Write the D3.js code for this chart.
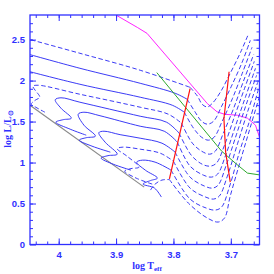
<!DOCTYPE html>
<html><head><meta charset="utf-8">
<script src="https://cdn.jsdelivr.net/npm/d3@7"></script>
<style>html,body{margin:0;padding:0;background:#fff;} svg{display:block;}</style>
</head><body>
<svg id="c" width="274" height="274"></svg>
<script>
// ---- axis ticks / labels ----
const xTicksMajor = [4.0, 3.9, 3.8, 3.7];
const xTickLabels = ["4", "3.9", "3.8", "3.7"];
const yTicksMajor = [0, 0.5, 1, 1.5, 2, 2.5];
const yTickLabels = ["0", "0.5", "1", "1.5", "2", "2.5"];

// ---- evolutionary tracks [log Teff, log L] ----
const track1 = [[4.060,2.520],[3.963,2.333],[3.858,2.126],[3.771,1.918],[3.758,1.809],[3.750,1.711],[3.741,1.678],[3.732,1.724],[3.718,1.861],[3.701,2.089],[3.683,2.345],[3.669,2.572]];
const track2 = [[4.060,2.336],[3.963,2.150],[3.858,1.967],[3.797,1.845],[3.776,1.772],[3.762,1.614],[3.751,1.504],[3.741,1.468],[3.730,1.504],[3.716,1.687],[3.699,1.931],[3.681,2.211],[3.666,2.491]];
const track3 = [[4.060,2.126],[3.963,1.955],[3.858,1.797],[3.802,1.699],[3.781,1.614],[3.765,1.419],[3.751,1.309],[3.739,1.273],[3.729,1.309],[3.715,1.504],[3.697,1.784],[3.680,2.089],[3.663,2.406]];
const track4 = [[4.024,1.614],[4.040,1.675],[4.048,1.711],[4.041,1.760],[4.033,1.797],[4.041,1.882],[4.045,1.931],[4.036,1.943],[3.963,1.833],[3.858,1.675],[3.809,1.590],[3.786,1.480],[3.767,1.236],[3.751,1.139],[3.737,1.102],[3.727,1.139],[3.713,1.358],[3.695,1.663],[3.678,1.992],[3.660,2.320]];
const track5 = [[3.952,1.334],[3.980,1.407],[4.005,1.492],[3.992,1.523],[3.978,1.541],[3.996,1.663],[4.006,1.766],[3.996,1.790],[3.963,1.736],[3.858,1.565],[3.812,1.492],[3.790,1.358],[3.769,1.090],[3.750,0.980],[3.736,0.956],[3.725,0.993],[3.711,1.212],[3.694,1.553],[3.676,1.906],[3.659,2.235]];
const track6 = [[3.910,1.127],[3.942,1.200],[3.964,1.273],[3.952,1.303],[3.936,1.322],[3.956,1.456],[3.966,1.590],[3.956,1.614],[3.928,1.571],[3.858,1.443],[3.816,1.382],[3.793,1.248],[3.771,0.956],[3.748,0.847],[3.734,0.822],[3.723,0.859],[3.709,1.090],[3.692,1.443],[3.674,1.809],[3.657,2.150]];
const track7 = [[3.874,0.907],[3.905,0.980],[3.926,1.054],[3.914,1.084],[3.898,1.102],[3.919,1.248],[3.930,1.364],[3.921,1.382],[3.893,1.340],[3.858,1.297],[3.820,1.236],[3.797,1.127],[3.771,0.822],[3.746,0.713],[3.732,0.688],[3.722,0.725],[3.708,0.968],[3.690,1.346],[3.673,1.711],[3.655,2.065]];
const track8 = [[3.837,0.737],[3.865,0.810],[3.885,0.895],[3.874,0.926],[3.860,0.944],[3.881,1.078],[3.898,1.169],[3.888,1.188],[3.858,1.163],[3.823,1.114],[3.800,1.017],[3.771,0.688],[3.744,0.579],[3.730,0.554],[3.720,0.591],[3.706,0.834],[3.688,1.236],[3.671,1.614],[3.653,1.980]];
const track9 = [[3.821,0.579],[3.833,0.688],[3.853,0.737],[3.840,0.780],[3.828,0.810],[3.849,0.907],[3.864,1.005],[3.854,1.029],[3.832,1.005],[3.804,0.907],[3.771,0.554],[3.743,0.445],[3.727,0.420],[3.716,0.457],[3.702,0.713],[3.685,1.127],[3.667,1.517],[3.652,1.894]];
const track10 = [[3.840,0.664],[3.832,0.737],[3.820,0.786],[3.807,0.792],[3.774,0.505],[3.741,0.323],[3.722,0.274],[3.711,0.323],[3.701,0.591],[3.683,1.029],[3.666,1.431],[3.650,1.809]];
const tracks = [track1, track2, track3, track4, track5, track6, track7, track8, track9, track10];
// index where each track switches to the dashed post-main-sequence style
const bendIndex = [3, 4, 4, 11, 11, 11, 11, 10, 9, 3];
const firstPartDashed = [true, false, false, true, false, false, false, true, false, true];

// ---- other curves ----
const zams = [[4.050,1.699],[3.851,0.700]];
const redLeft = [[3.771,1.902],[3.807,0.801]];
const redRight = [[3.703,2.107],[3.712,1.535],[3.709,1.127],[3.701,0.761]];
const greenLine = [[3.829,2.097],[3.716,1.139],[3.690,0.980],[3.671,0.871],[3.648,0.847]];
const magentaLine = [[3.899,2.795],[3.863,2.649],[3.846,2.576],[3.741,1.720],[3.724,1.619],[3.711,1.589],[3.688,1.577],[3.671,1.541],[3.657,1.456],[3.650,1.309],[3.645,1.151]];

const L = 30, R = 259.5, T = 15, B = 244.5;
const AX = "#3030ff", TR = "#3030f4";
const svg = d3.select("#c");
const x = d3.scaleLinear().domain([4.05, 3.65]).range([L, R]);
const y = d3.scaleLinear().domain([0, 2.8]).range([B, T]);

svg.append("defs").append("clipPath").attr("id","clip")
  .append("rect").attr("x",L).attr("y",T).attr("width",R-L).attr("height",B-T);
const plot = svg.append("g").attr("clip-path","url(#clip)");
const line = d3.line().x(d=>x(d[0])).y(d=>y(d[1])).curve(d3.curveCatmullRom.alpha(0.5));
const lin = d3.line().x(d=>x(d[0])).y(d=>y(d[1]));

plot.append("path").attr("d", lin(zams)).attr("fill","none").attr("stroke","#8a8a8a").attr("stroke-width",1.2);
plot.append("path").attr("d", lin(magentaLine)).attr("fill","none").attr("stroke","#ff22ff").attr("stroke-width",1);

tracks.forEach((t,i) => {
  const a = t.slice(0, bendIndex[i]+1), b = t.slice(bendIndex[i]);
  plot.append("path").attr("d", line(a)).attr("fill","none").attr("stroke",TR).attr("stroke-width",0.95)
    .attr("stroke-dasharray", firstPartDashed[i] ? "4.5,2.5" : null);
  plot.append("path").attr("d", line(b)).attr("fill","none").attr("stroke",TR).attr("stroke-width",0.95)
    .attr("stroke-dasharray","4.5,2.5");
});

plot.append("path").attr("d", lin(greenLine)).attr("fill","none").attr("stroke","#2ea82e").attr("stroke-width",1);
plot.append("path").attr("d", lin(redLeft)).attr("fill","none").attr("stroke","#ff1010").attr("stroke-width",1.2);
plot.append("path").attr("d", lin(redRight)).attr("fill","none").attr("stroke","#ff1010").attr("stroke-width",1.2);

// ---- axes ----
const xMinor = d3.range(3.66, 4.05, 0.02);
const yMinor = d3.range(0.1, 2.8, 0.1);
function style(g){ g.select(".domain").remove(); g.selectAll("line").attr("stroke",AX).attr("stroke-width",1);
  g.selectAll("text").attr("fill",AX).attr("font-family","Liberation Sans, Arial, sans-serif").attr("font-size","9.5px").attr("font-weight","bold"); }
svg.append("g").attr("transform",`translate(0,${B})`).call(d3.axisBottom(x).tickValues(xMinor).tickSize(-3).tickFormat("")).call(style);
svg.append("g").attr("transform",`translate(0,${B})`).call(d3.axisBottom(x).tickValues(xTicksMajor).tickSize(-6).tickPadding(7).tickFormat((d,i)=>xTickLabels[i])).call(style);
svg.append("g").attr("transform",`translate(0,${T})`).call(d3.axisTop(x).tickValues(xMinor).tickSize(-3).tickFormat("")).call(style);
svg.append("g").attr("transform",`translate(0,${T})`).call(d3.axisTop(x).tickValues(xTicksMajor).tickSize(-6).tickFormat("")).call(style);
svg.append("g").attr("transform",`translate(${L},0)`).call(d3.axisLeft(y).tickValues(yMinor).tickSize(-3).tickFormat("")).call(style);
svg.append("g").attr("transform",`translate(${L},0)`).call(d3.axisLeft(y).tickValues(yTicksMajor).tickSize(-6).tickPadding(5).tickFormat((d,i)=>yTickLabels[i])).call(style);
svg.append("g").attr("transform",`translate(${R},0)`).call(d3.axisRight(y).tickValues(yMinor).tickSize(-3).tickFormat("")).call(style);
svg.append("g").attr("transform",`translate(${R},0)`).call(d3.axisRight(y).tickValues(yTicksMajor).tickSize(-6).tickFormat("")).call(style);
svg.append("rect").attr("x",L).attr("y",T).attr("width",R-L).attr("height",B-T).attr("fill","none").attr("stroke",AX).attr("stroke-width",1.3);

// ---- titles ----
const xt = svg.append("text").attr("x",147).attr("y",268.5).attr("text-anchor","middle")
  .attr("fill",AX).attr("font-family","Liberation Serif, Times New Roman, serif").attr("font-weight","bold").attr("font-size","10px");
xt.append("tspan").text("log T");
xt.append("tspan").attr("font-size","7px").attr("dy",2).text("eff");
const yt = svg.append("text").attr("transform","translate(11,129) rotate(-90)").attr("text-anchor","middle")
  .attr("fill",AX).attr("font-family","Liberation Serif, Times New Roman, serif").attr("font-weight","bold").attr("font-size","10px");
yt.append("tspan").text("log L/L");
yt.append("tspan").attr("font-size","7px").attr("dy",2).text("⊙");
</script>
</body></html>
